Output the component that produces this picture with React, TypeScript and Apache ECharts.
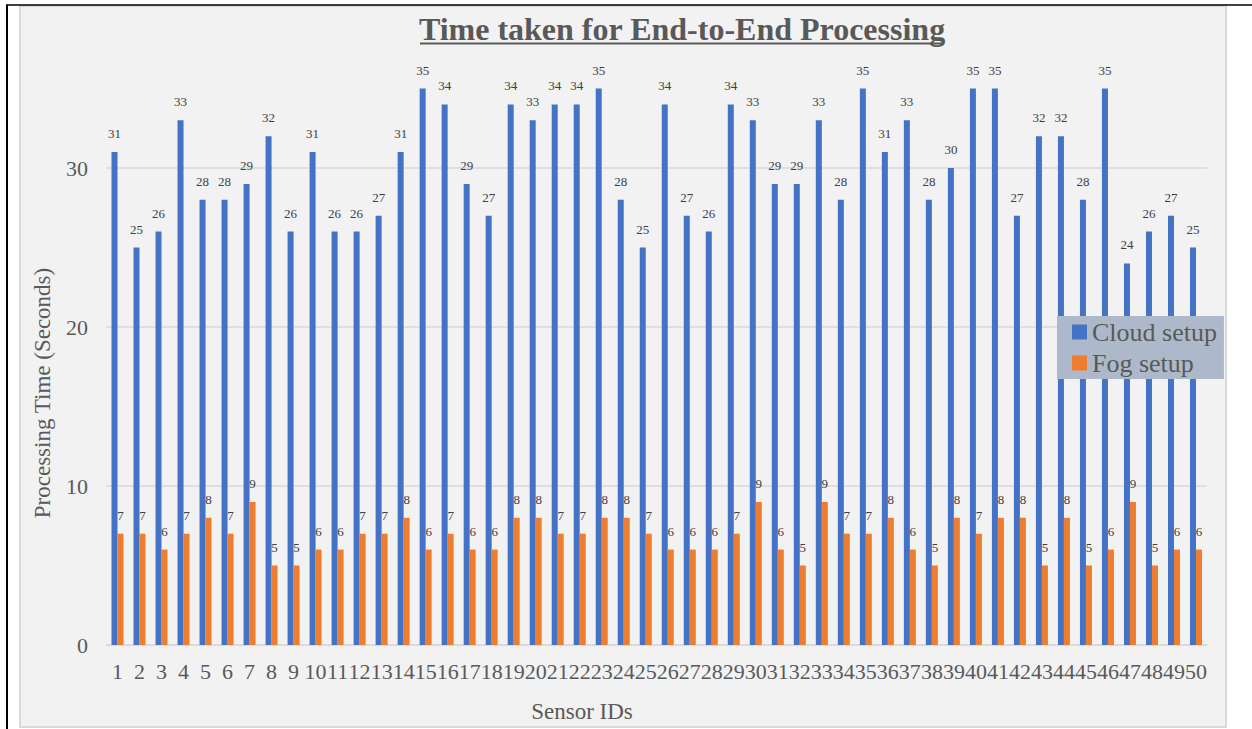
import React, { useEffect, useRef } from "react";
import * as echarts from "echarts";

const sensorIds = [
  "1", "2", "3", "4", "5", "6", "7", "8", "9", "10",
  "11", "12", "13", "14", "15", "16", "17", "18", "19", "20",
  "21", "22", "23", "24", "25", "26", "27", "28", "29", "30",
  "31", "32", "33", "34", "35", "36", "37", "38", "39", "40",
  "41", "42", "43", "44", "45", "46", "47", "48", "49", "50",
];

const cloudSetup = [
  31, 25, 26, 33, 28, 28, 29, 32, 26, 31,
  26, 26, 27, 31, 35, 34, 29, 27, 34, 33,
  34, 34, 35, 28, 25, 34, 27, 26, 34, 33,
  29, 29, 33, 28, 35, 31, 33, 28, 30, 35,
  35, 27, 32, 32, 28, 35, 24, 26, 27, 25,
];

const fogSetup = [
  7, 7, 6, 7, 8, 7, 9, 5, 5, 6,
  6, 7, 7, 8, 6, 7, 6, 6, 8, 8,
  7, 7, 8, 8, 7, 6, 6, 6, 7, 9,
  6, 5, 9, 7, 7, 8, 6, 5, 8, 7,
  8, 8, 5, 8, 5, 6, 9, 5, 6, 6,
];

const seriesNames = ["Cloud setup", "Fog setup"];
const titleText = "Time taken for End-to-End Processing";
const yAxisTitle = "Processing Time (Seconds)";
const xAxisTitle = "Sensor IDs";

const FONT = "'Liberation Serif', 'Times New Roman', serif";

export default function App() {
  const ref = useRef<HTMLDivElement>(null);

  useEffect(() => {
    if (!ref.current) return;
    const chart = echarts.init(ref.current, null, { renderer: "svg" });
    const labelStyle = {
      show: true,
      position: "top",
      distance: 12,
      fontSize: 13,
      fontFamily: FONT,
      color: "#404040",
    };
    chart.setOption({
      animation: false,
      backgroundColor: "#ffffff",
      textStyle: { fontFamily: FONT },
      graphic: [
        {
          type: "rect",
          z: -10,
          silent: true,
          shape: { x: 20, y: 6, width: 1206, height: 721 },
          style: { fill: "#f2f2f2", stroke: "#d9d9d9", lineWidth: 2 },
        },
        {
          type: "line",
          z: 100,
          silent: true,
          shape: { x1: 6, y1: 5, x2: 1252, y2: 5 },
          style: { stroke: "#000000", lineWidth: 1.5 },
        },
        {
          type: "line",
          z: 100,
          silent: true,
          shape: { x1: 7, y1: 5, x2: 7, y2: 729 },
          style: { stroke: "#000000", lineWidth: 2 },
        },
        {
          type: "text",
          z: 100,
          x: 682,
          y: 28.5,
          style: {
            text: titleText,
            fontFamily: FONT,
            fontSize: 32,
            fontWeight: "bold",
            fill: "#595959",
            align: "center",
            verticalAlign: "middle",
          },
        },
        {
          type: "line",
          z: 100,
          silent: true,
          shape: { x1: 420, y1: 43.5, x2: 944, y2: 43.5 },
          style: { stroke: "#595959", lineWidth: 2 },
        },
        {
          type: "text",
          z: 100,
          x: 42,
          y: 393,
          rotation: Math.PI / 2,
          style: {
            text: yAxisTitle,
            fontFamily: FONT,
            fontSize: 23,
            fill: "#595959",
            align: "center",
            verticalAlign: "middle",
          },
        },
        {
          type: "text",
          z: 100,
          x: 582,
          y: 711,
          style: {
            text: xAxisTitle,
            fontFamily: FONT,
            fontSize: 23,
            fill: "#595959",
            align: "center",
            verticalAlign: "middle",
          },
        },
      ],
      legend: {
        data: seriesNames,
        orient: "vertical",
        left: 1057,
        top: 316,
        backgroundColor: "#adb9ca",
        padding: [3, 7, 3, 15],
        itemGap: 5,
        itemWidth: 15,
        itemHeight: 15,
        icon: "rect",
        textStyle: {
          fontFamily: FONT,
          fontSize: 26,
          lineHeight: 25,
          color: "#595959",
        },
      },
      grid: {
        left: 106.5,
        right: 45,
        top: 88.5,
        bottom: 84,
        containLabel: false,
      },
      xAxis: {
        type: "category",
        data: sensorIds,
        axisLine: { show: true, lineStyle: { color: "#d9d9d9", width: 1.5 } },
        axisTick: { show: false },
        axisLabel: {
          interval: 0,
          margin: 15,
          fontFamily: FONT,
          fontSize: 22,
          color: "#595959",
        },
      },
      yAxis: {
        type: "value",
        min: 0,
        max: 35,
        interval: 10,
        axisLine: { show: false },
        axisTick: { show: false },
        axisLabel: {
          margin: 18.5,
          fontFamily: FONT,
          fontSize: 22,
          color: "#595959",
          showMaxLabel: false,
        },
        splitLine: {
          show: true,
          showMaxLine: false,
          lineStyle: { color: "#d9d9d9", width: 1.5 },
        },
      },
      series: [
        {
          name: seriesNames[0],
          type: "bar",
          data: cloudSetup,
          barWidth: 6,
          barGap: "0%",
          itemStyle: { color: "#4472c4" },
          label: labelStyle,
        },
        {
          name: seriesNames[1],
          type: "bar",
          data: fogSetup,
          barWidth: 6,
          barGap: "0%",
          itemStyle: { color: "#ed7d31" },
          label: labelStyle,
        },
      ],
    });
    return () => chart.dispose();
  }, []);

  return (
    <div
      ref={ref}
      style={{ position: "fixed", left: 0, top: 0, width: 1252, height: 729 }}
    />
  );
}
